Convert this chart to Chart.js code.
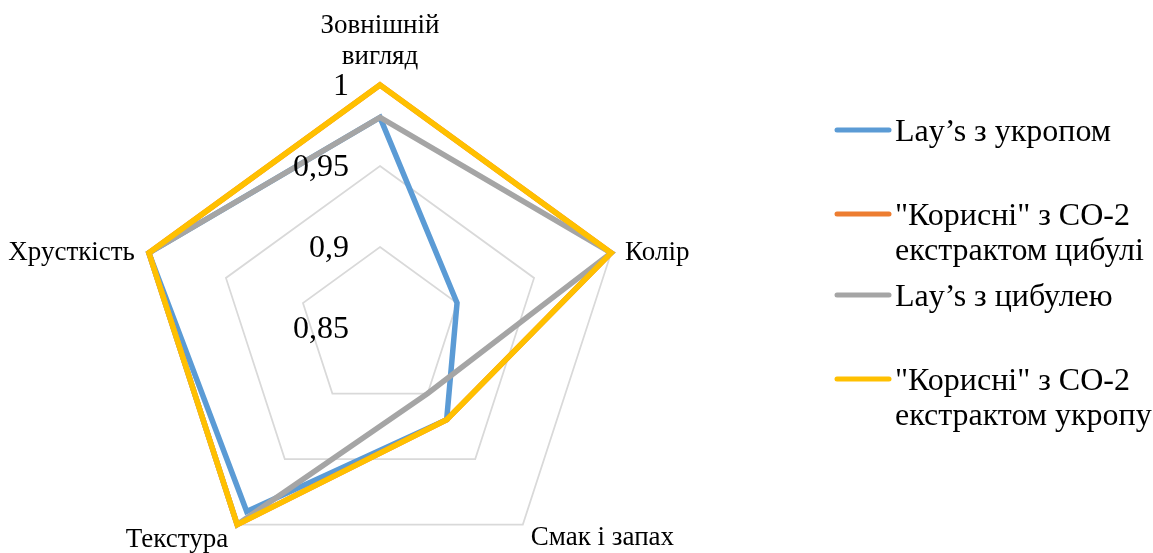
<!DOCTYPE html>
<html lang="uk">
<head>
<meta charset="utf-8">
<title>Органолептичні показники чипсів</title>
<script src="https://cdn.jsdelivr.net/npm/chart.js@4.4.1/dist/chart.umd.min.js"></script>
<style>
  html, body { margin: 0; padding: 0; background: #ffffff; overflow: hidden; }
  #wrap { position: relative; width: 1153px; height: 620px; }
</style>
</head>
<body>
<div id="wrap"><canvas id="radar" width="1153" height="620"></canvas></div>
<script>
// Axis categories (multi-line names are arrays of lines)
const categories = [['Зовнішній', 'вигляд'], 'Колір', 'Смак і запах', 'Текстура', 'Хрусткість'];

// Series names as they appear in the legend (one array entry per line)
const nameLaysDill = ['Lay’s з укропом'];
const nameUsefulOnion = ['"Корисні" з CO-2', 'екстрактом цибулі'];
const nameLaysOnion = ['Lay’s з цибулею'];
const nameUsefulDill = ['"Корисні" з CO-2', 'екстрактом укропу'];

// Scores per category
const laysDill = [0.98, 0.90, 0.92, 0.99, 1.00];
const usefulOnion = [1.00, 1.00, 0.92, 1.00, 1.00];
const laysOnion = [0.98, 1.00, 0.90, 1.00, 1.00];
const usefulDill = [1.00, 1.00, 0.92, 1.00, 1.00];

// Radial axis ticks
const tickValues = [0.85, 0.90, 0.95, 1.00];
const tickLabels = ['0,85', '0,9', '0,95', '1'];

const SERIF = '"Liberation Serif", "Times New Roman", "DejaVu Serif", serif';

const series = [
  { name: nameLaysDill, data: laysDill, color: '#5b9bd5', order: 4 },
  { name: nameUsefulOnion, data: usefulOnion, color: '#ed7d31', order: 3 },
  { name: nameLaysOnion, data: laysOnion, color: '#a5a5a5', order: 2 },
  { name: nameUsefulDill, data: usefulDill, color: '#ffc000', order: 1 }
];

// Placement of each category name relative to its outer vertex
const labelPlacement = [
  { align: 'center', dx: 0, dy: -28, stackUp: true },
  { align: 'left', dx: 14, dy: 0 },
  { align: 'left', dx: 8, dy: 13 },
  { align: 'right', dx: -9, dy: 15 },
  { align: 'right', dx: -14, dy: 0 }
];

// Legend rows: y of the first text line
const legendRows = [133, 217, 298, 382];

const labelsPlugin = {
  id: 'radarText',
  afterDraw(chart) {
    const ctx = chart.ctx;
    const r = chart.scales.r;
    ctx.save();
    ctx.fillStyle = '#000000';

    // category names
    ctx.font = '27px ' + SERIF;
    ctx.textBaseline = 'middle';
    categories.forEach((cat, i) => {
      const lines = Array.isArray(cat) ? cat : [cat];
      const p = r.getPointPosition(i, r.drawingArea);
      const pl = labelPlacement[i];
      ctx.textAlign = pl.align;
      const step = 31;
      lines.forEach((ln, k) => {
        const y = pl.stackUp
          ? p.y + pl.dy - (lines.length - 1 - k) * step
          : p.y + pl.dy + k * step;
        ctx.fillText(ln, p.x + pl.dx, y);
      });
    });

    // tick labels beside the vertical axis
    ctx.font = '32px ' + SERIF;
    ctx.textAlign = 'right';
    tickValues.forEach((v, i) => {
      const y = r.yCenter - r.getDistanceFromCenterForValue(v) + 2;
      ctx.fillText(tickLabels[i], r.xCenter - 31, y);
    });

    // legend
    ctx.font = '32px ' + SERIF;
    ctx.textAlign = 'left';
    chart.data.datasets.forEach((ds, i) => {
      const y0 = legendRows[i];
      ctx.strokeStyle = ds.borderColor;
      ctx.lineWidth = 5;
      ctx.lineCap = 'round';
      ctx.beginPath();
      ctx.moveTo(837, y0 - 3);
      ctx.lineTo(889, y0 - 3);
      ctx.stroke();
      series[i].name.forEach((ln, k) => {
        ctx.fillText(ln, 895, y0 + k * 35);
      });
    });
    ctx.restore();
  }
};

new Chart(document.getElementById('radar'), {
  type: 'radar',
  data: {
    labels: categories,
    datasets: series.map(s => ({
      label: s.name.join(' '),
      data: s.data,
      borderColor: s.color,
      backgroundColor: s.color,
      borderWidth: 5.5,
      borderJoinStyle: 'miter',
      fill: false,
      pointRadius: 0,
      pointHoverRadius: 0,
      tension: 0,
      order: s.order
    }))
  },
  options: {
    responsive: false,
    animation: false,
    events: [],
    layout: { padding: { left: 137, top: 85, right: 530, bottom: 49 } },
    plugins: {
      legend: { display: false },
      tooltip: { enabled: false },
      title: { display: false }
    },
    scales: {
      r: {
        min: tickValues[0],
        max: tickValues[tickValues.length - 1],
        beginAtZero: false,
        ticks: { stepSize: 0.05, display: false },
        grid: { color: '#d9d9d9', lineWidth: 1.75, circular: false },
        angleLines: { display: false },
        pointLabels: { display: false }
      }
    }
  },
  plugins: [labelsPlugin]
});
</script>
</body>
</html>
